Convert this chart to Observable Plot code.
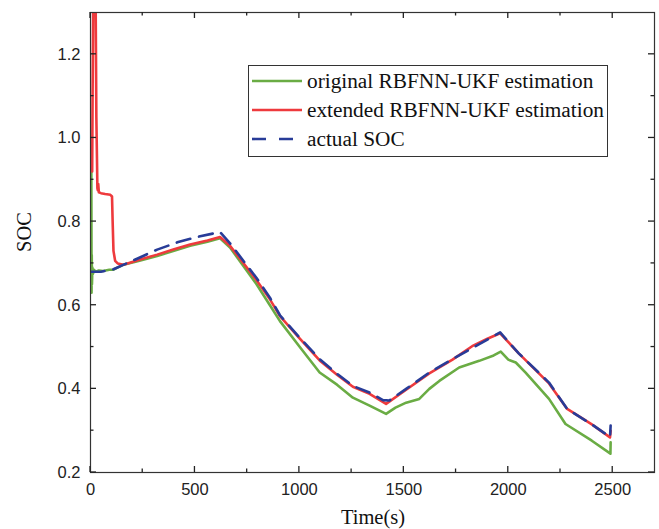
<!DOCTYPE html>
<html><head><meta charset="utf-8">
<script src="https://cdn.jsdelivr.net/npm/d3@7"></script>
<script src="https://cdn.jsdelivr.net/npm/@observablehq/plot@0.6"></script>
<style>
body{margin:0;background:#fff;}
#wrap{position:relative;width:659px;height:529px;}
.lbl{position:absolute;font-family:"Liberation Serif",serif;font-size:20.5px;color:#111;white-space:nowrap;}
#legend{position:absolute;left:248px;top:65px;width:358px;height:90px;border:1px solid #333;background:#fff;font-family:"Liberation Serif",serif;font-size:21.3px;color:#111;}
#legend .row{position:absolute;left:2px;height:28px;display:flex;align-items:center;}
#legend svg{margin-right:4px;}
</style>
</head><body>
<div id="wrap"></div>
<script>
// ---- data ----
const actualT = [0, 50, 110, 200, 319, 420, 500, 620, 668, 795, 859, 907, 1002, 1097, 1180, 1256, 1336, 1400, 1430, 1511, 1622, 1733, 1861, 1961, 2050, 2195, 2282, 2400, 2487, 2490];
const actualSOC = [0.68, 0.68, 0.686, 0.706, 0.733, 0.751, 0.762, 0.775, 0.748, 0.665, 0.618, 0.576, 0.522, 0.471, 0.436, 0.407, 0.391, 0.373, 0.372, 0.40, 0.439, 0.471, 0.507, 0.535, 0.485, 0.415, 0.352, 0.315, 0.285, 0.312];

const extT = [8, 10, 13, 16, 21, 25, 28, 31, 33, 35, 37, 40, 50, 70, 95, 103, 106, 110, 118, 130, 158, 230, 319, 400, 477, 560, 620, 668, 795, 859, 907, 1002, 1097, 1180, 1256, 1336, 1415, 1511, 1622, 1733, 1827, 1900, 1961, 2050, 2195, 2282, 2400, 2487, 2490];
const extSOC = [0.92, 1.1, 1.32, 1.5, 1.5, 1.3, 1.05, 0.95, 0.88, 0.875, 0.89, 0.87, 0.868, 0.866, 0.864, 0.86, 0.80, 0.73, 0.706, 0.70, 0.697, 0.708, 0.721, 0.734, 0.745, 0.755, 0.763, 0.742, 0.660, 0.614, 0.574, 0.52, 0.468, 0.434, 0.405, 0.388, 0.364, 0.398, 0.437, 0.47, 0.502, 0.52, 0.533, 0.485, 0.413, 0.352, 0.315, 0.284, 0.30];

const origT = [4, 5, 6, 7, 9, 12, 16, 25, 40, 60, 90, 110, 158, 230, 319, 400, 477, 560, 620, 668, 795, 859, 907, 1002, 1097, 1180, 1256, 1336, 1415, 1460, 1511, 1574, 1622, 1670, 1765, 1861, 1930, 1964, 2000, 2036, 2083, 2195, 2274, 2400, 2489, 2490];
const origSOC = [0.92, 0.63, 0.72, 0.65, 0.69, 0.675, 0.685, 0.68, 0.683, 0.682, 0.685, 0.685, 0.697, 0.706, 0.718, 0.73, 0.742, 0.752, 0.76, 0.738, 0.65, 0.60, 0.562, 0.50, 0.439, 0.41, 0.379, 0.36, 0.340, 0.355, 0.367, 0.376, 0.40, 0.419, 0.451, 0.467, 0.48, 0.489, 0.47, 0.463, 0.439, 0.376, 0.316, 0.276, 0.245, 0.272];

const xMajor = [0, 500, 1000, 1500, 2000, 2500];
const xMinor = [250, 750, 1250, 1750, 2250];
const yMajor = [0.2, 0.4, 0.6, 0.8, 1.0, 1.2];
const yMinor = [0.3, 0.5, 0.7, 0.9, 1.1];

const seriesNames = ["original RBFNN-UKF estimation", "extended RBFNN-UKF estimation", "actual SOC"];
const colors = ["#6aac44", "#ee3a3d", "#283c98"];

const zip = (t, v) => t.map((d, i) => ({t: d, soc: v[i]}));
const orig = zip(origT, origSOC), ext = zip(extT, extSOC), act = zip(actualT, actualSOC);

const W = 659, H = 529, mL = 90, mR = 5, mT = 12, mB = 57;
const chart = Plot.plot({
  width: W, height: H,
  marginLeft: mL, marginRight: mR, marginTop: mT, marginBottom: mB,
  x: {domain: [0, 2700]},
  y: {domain: [0.2, 1.3]},
  style: {fontFamily: "'Liberation Sans', Arial, sans-serif", fontSize: "16.5px", color: "#222", background: "#fff"},
  marks: [
    Plot.line(orig, {x: "t", y: "soc", stroke: colors[0], strokeWidth: 2.6, clip: true}),
    Plot.line(ext, {x: "t", y: "soc", stroke: colors[1], strokeWidth: 2.6, clip: true}),
    Plot.line(act, {x: "t", y: "soc", stroke: colors[2], strokeWidth: 2.6, strokeDasharray: "14,9", clip: true}),
    Plot.frame({stroke: "#333", strokeWidth: 1.2}),
    Plot.axisX(xMajor, {anchor: "bottom", tickSize: 0, tickPadding: 11, tickFormat: d => String(d), label: null}),
    Plot.axisY(yMajor, {anchor: "left", tickSize: 0, tickPadding: 10, tickFormat: d3.format(".1f"), label: null})
  ]
});

// inward ticks on all four sides, positioned through the chart's own scales
const sx = chart.scale("x"), sy = chart.scale("y");
const fx = d3.scaleLinear(sx.domain, sx.range), fy = d3.scaleLinear(sy.domain, sy.range);
const [x0, x1] = sx.range, [yb, yt] = sy.range;
const g = d3.select(chart).append("g").attr("stroke", "#222").attr("stroke-width", 1.3);
const addX = (vals, len) => vals.forEach(v => {
  const px = fx(v);
  g.append("line").attr("x1", px).attr("x2", px).attr("y1", yb).attr("y2", yb - len);
  g.append("line").attr("x1", px).attr("x2", px).attr("y1", yt).attr("y2", yt + len);
});
const addY = (vals, len) => vals.forEach(v => {
  const py = fy(v);
  g.append("line").attr("y1", py).attr("y2", py).attr("x1", x0).attr("x2", x0 + len);
  g.append("line").attr("y1", py).attr("y2", py).attr("x1", x1).attr("x2", x1 - len);
});
addX(xMajor, 6); addX(xMinor, 3.5); addY(yMajor, 6); addY(yMinor, 3.5);

const wrap = document.getElementById("wrap");
wrap.appendChild(chart);

const xl = document.createElement("div");
xl.className = "lbl"; xl.textContent = "Time(s)";
xl.style.left = "373px"; xl.style.top = "506px"; xl.style.transform = "translateX(-50%)";
wrap.appendChild(xl);
const yl = document.createElement("div");
yl.className = "lbl"; yl.textContent = "SOC";
yl.style.left = "24px"; yl.style.top = "232px"; yl.style.transform = "translate(-50%,-50%) rotate(-90deg)";
wrap.appendChild(yl);

const lg = document.createElement("div");
lg.id = "legend";
seriesNames.forEach((name, i) => {
  const row = document.createElement("div");
  row.className = "row";
  row.style.top = (1 + i * 29) + "px";
  const dash = i === 2 ? ' stroke-dasharray="14,13"' : '';
  row.innerHTML = `<svg width="52" height="10"><line x1="1" y1="5" x2="51" y2="5" stroke="${colors[i]}" stroke-width="2.6"${dash}/></svg><span>${name}</span>`;
  lg.appendChild(row);
});
wrap.appendChild(lg);
</script>
</body></html>
